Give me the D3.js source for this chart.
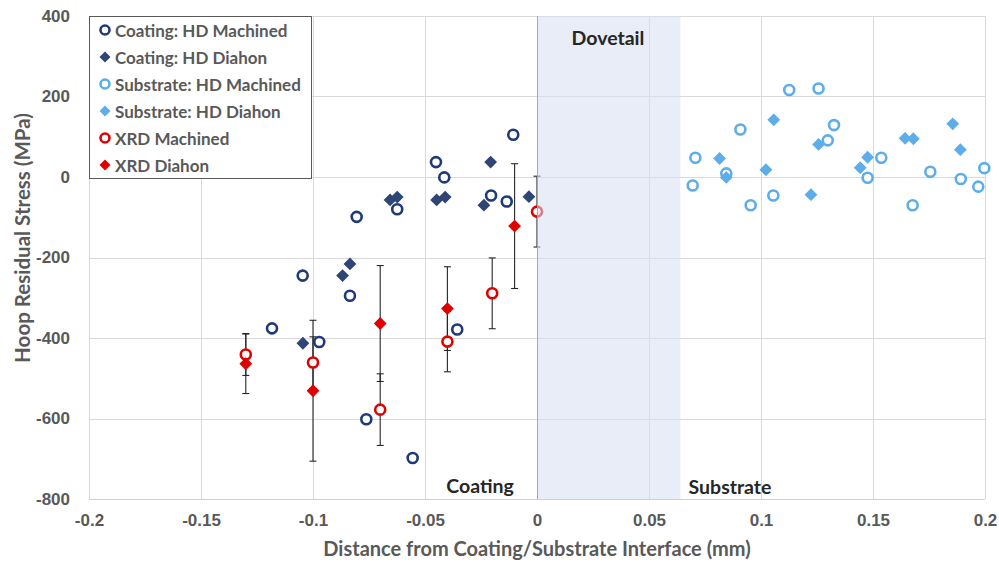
<!DOCTYPE html>
<html>
<head>
<meta charset="utf-8">
<script src="https://cdn.jsdelivr.net/npm/d3@7"></script>
<style>
  html, body { margin: 0; padding: 0; background: #ffffff; }
  svg { display: block; font-family: Lato, "Open Sans", sans-serif; }
</style>
</head>
<body>
<svg id="chart" width="999" height="569"></svg>
<script>
// Hoop residual stress across the coating / dovetail / substrate regions

// Series: [distance (mm), stress (MPa)]
const coatingMachined = [
  [-0.1183, -376], [-0.1046, -245], [-0.0972, -410], [-0.0835, -295],
  [-0.0805, -99], [-0.0762, -602], [-0.0624, -80], [-0.0555, -698],
  [-0.0451, 37], [-0.0414, -1], [-0.0356, -379], [-0.0205, -46],
  [-0.0135, -61], [-0.0106, 105]
];
const coatingDiahon = [
  [-0.1045, -413], [-0.0868, -245], [-0.0835, -216], [-0.0656, -57],
  [-0.0624, -50], [-0.0448, -57], [-0.0410, -50], [-0.0237, -70],
  [-0.0207, 37], [-0.0036, -49]
];
const substrateMachined = [
  [0.0707, 48], [0.0695, -21], [0.0908, 118], [0.0845, 9],
  [0.0954, -70], [0.1126, 216], [0.1257, 220], [0.1326, 129],
  [0.1298, 91], [0.1055, -46], [0.1476, -2], [0.1537, 48],
  [0.1756, 13], [0.1677, -70], [0.1892, -5], [0.1970, -24],
  [0.1997, 22]
];
const substrateDiahon = [
  [0.0815, 46], [0.0845, -1], [0.1022, 18], [0.1057, 142],
  [0.1257, 81], [0.1223, -44], [0.1443, 23], [0.1476, 49],
  [0.1643, 96], [0.1680, 95], [0.1856, 132], [0.1890, 68]
];
// XRD: [distance (mm), stress (MPa), +/- error (MPa)]
const xrdMachined = [
  [-0.13, -441, 52], [-0.10, -461, 64], [-0.07, -578, 89],
  [-0.04, -409, 75], [-0.02, -289, 88], [0.00, -86, 88]
];
const xrdDiahon = [
  [-0.13, -464, 74], [-0.10, -531, 175], [-0.07, -364, 144],
  [-0.04, -327, 104], [-0.01, -122, 155]
];

const xTicks = [-0.2, -0.15, -0.1, -0.05, 0, 0.05, 0.1, 0.15, 0.2];
const yTicks = [-800, -600, -400, -200, 0, 200, 400];
const dovetailSpan = [0, 0.064];

const legendItems = [
  { name: "Coating: HD Machined", shape: "circle", color: "#1f3a78" },
  { name: "Coating: HD Diahon", shape: "diamond", color: "#2f4575" },
  { name: "Substrate: HD Machined", shape: "circle", color: "#5dadea" },
  { name: "Substrate: HD Diahon", shape: "diamond", color: "#5dadea" },
  { name: "XRD Machined", shape: "circle", color: "#e00000" },
  { name: "XRD Diahon", shape: "diamond", color: "#e00000" }
];

const svg = d3.select("#chart");
const plot = { left: 89, right: 985, top: 16, bottom: 499 };

const x = d3.scaleLinear().domain([-0.2, 0.2]).range([plot.left, plot.right]);
const y = d3.scaleLinear().domain([-800, 400]).range([plot.bottom, plot.top]);

const gridColor = "#d9d9d9";
const labelColor = "#595959";

// Gridlines
const grid = svg.append("g");
grid.selectAll("line.v").data(xTicks).join("line")
  .attr("x1", d => Math.round(x(d)) + 0.5).attr("x2", d => Math.round(x(d)) + 0.5)
  .attr("y1", plot.top).attr("y2", plot.bottom)
  .attr("stroke", gridColor).attr("stroke-width", 1);
grid.selectAll("line.h").data(yTicks).join("line")
  .attr("x1", plot.left).attr("x2", plot.right)
  .attr("y1", d => Math.round(y(d)) + 0.5).attr("y2", d => Math.round(y(d)) + 0.5)
  .attr("stroke", gridColor).attr("stroke-width", 1);

// Axes (labels only, lines drawn separately)
const xAxis = svg.append("g")
  .attr("transform", `translate(0,${plot.bottom})`)
  .call(d3.axisBottom(x).tickValues(xTicks).tickSize(0).tickPadding(15).tickFormat(d => String(d)));
const yAxis = svg.append("g")
  .attr("transform", `translate(${plot.left},0)`)
  .call(d3.axisLeft(y).tickValues(yTicks).tickSize(0).tickPadding(19).tickFormat(d => String(d)));
[xAxis, yAxis].forEach(g => {
  g.select(".domain").remove();
  g.selectAll("text")
    .attr("fill", labelColor)
    .style("font-size", "17px")
    .style("font-weight", "700");
});

// Error bars
const bars = svg.append("g").attr("stroke", "#262626").attr("stroke-width", 1.1);
[...xrdMachined, ...xrdDiahon].forEach(([dx, dy, e]) => {
  const cx = x(dx);
  bars.append("line").attr("x1", cx).attr("x2", cx).attr("y1", y(dy + e)).attr("y2", y(dy - e));
  [dy + e, dy - e].forEach(v => {
    bars.append("line").attr("x1", cx - 3.5).attr("x2", cx + 3.5).attr("y1", y(v)).attr("y2", y(v));
  });
});

// Diamond = square symbol turned by 45 degrees
const diamond = d3.symbol().type(d3.symbolSquare).size(82);

function drawCircles(data, color) {
  svg.append("g").selectAll("circle").data(data).join("circle")
    .attr("cx", d => x(d[0])).attr("cy", d => y(d[1])).attr("r", 5)
    .attr("fill", "#ffffff").attr("stroke", color).attr("stroke-width", 2.6);
}
function drawDiamonds(data, color) {
  svg.append("g").selectAll("path").data(data).join("path")
    .attr("transform", d => `translate(${x(d[0])},${y(d[1])}) rotate(45)`)
    .attr("d", diamond).attr("fill", color);
}

drawCircles(coatingMachined, legendItems[0].color);
drawDiamonds(coatingDiahon, legendItems[1].color);
drawCircles(substrateMachined, legendItems[2].color);
drawDiamonds(substrateDiahon, legendItems[3].color);
drawCircles(xrdMachined, legendItems[4].color);
drawDiamonds(xrdDiahon, legendItems[5].color);

// Dovetail region (translucent overlay)
svg.append("rect")
  .attr("x", x(dovetailSpan[0])).attr("y", plot.top)
  .attr("width", x(dovetailSpan[1]) - x(dovetailSpan[0]))
  .attr("height", plot.bottom - plot.top)
  .attr("fill", "#d6dff0").attr("fill-opacity", 0.55);

// Axis lines
svg.append("line")
  .attr("x1", Math.round(x(0)) + 0.5).attr("x2", Math.round(x(0)) + 0.5)
  .attr("y1", plot.top).attr("y2", plot.bottom)
  .attr("stroke", "#a6a6a6").attr("stroke-width", 1);
svg.append("line")
  .attr("x1", plot.left).attr("x2", plot.right)
  .attr("y1", plot.bottom + 0.5).attr("y2", plot.bottom + 0.5)
  .attr("stroke", "#d0d0d0").attr("stroke-width", 1);

// Region labels
const regionLabels = [
  { text: "Dovetail", px: 608, py: 37 },
  { text: "Coating", px: 480, py: 485 },
  { text: "Substrate", px: 730, py: 486 }
];
svg.append("g").selectAll("text").data(regionLabels).join("text")
  .attr("x", d => d.px).attr("y", d => d.py)
  .attr("text-anchor", "middle").attr("dominant-baseline", "central")
  .attr("fill", "#262626")
  .style("font-size", "19.5px").style("font-weight", "700")
  .text(d => d.text);

// Axis titles
svg.append("text")
  .attr("x", 537).attr("y", 548)
  .attr("text-anchor", "middle").attr("dominant-baseline", "central")
  .attr("fill", labelColor).style("font-size", "20px").style("font-weight", "700")
  .text("Distance from Coating/Substrate Interface (mm)");
svg.append("text")
  .attr("transform", "translate(22,238) rotate(-90)")
  .attr("text-anchor", "middle").attr("dominant-baseline", "central")
  .attr("fill", labelColor).style("font-size", "20.5px").style("font-weight", "700")
  .text("Hoop Residual Stress (MPa)");

// Legend
const legend = svg.append("g");
legend.append("rect")
  .attr("x", 89.5).attr("y", 16.5).attr("width", 222).attr("height", 162)
  .attr("fill", "#ffffff").attr("stroke", "#595959").attr("stroke-width", 1);
const rows = legend.selectAll("g.row").data(legendItems).join("g")
  .attr("transform", (d, i) => `translate(105,${30 + i * 27})`);
rows.each(function(d) {
  const g = d3.select(this);
  if (d.shape === "circle") {
    g.append("circle").attr("r", 4.5).attr("fill", "#ffffff")
      .attr("stroke", d.color).attr("stroke-width", 2.6);
  } else {
    g.append("path").attr("transform", "rotate(45)")
      .attr("d", d3.symbol().type(d3.symbolSquare).size(60)).attr("fill", d.color);
  }
});
rows.append("text")
  .attr("x", 10).attr("y", 0).attr("dominant-baseline", "central")
  .attr("fill", labelColor).style("font-size", "17px").style("font-weight", "700")
  .text(d => d.name);
</script>
</body>
</html>
